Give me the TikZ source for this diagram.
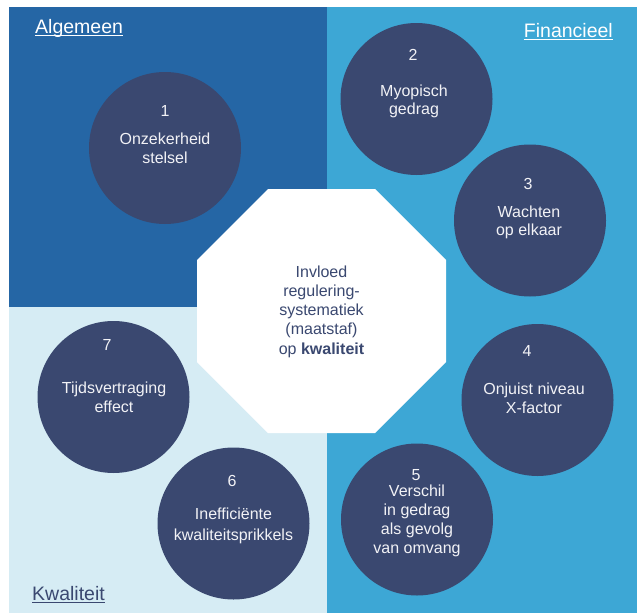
\documentclass[tikz,border=0pt]{standalone}
\usepackage{fontspec}
\setmainfont{Liberation Sans}
\definecolor{qdark}{RGB}{37,102,165}
\definecolor{qmid}{RGB}{61,167,213}
\definecolor{qlight}{RGB}{214,236,244}
\definecolor{navy}{RGB}{58,72,112}
\definecolor{softwhite}{RGB}{242,242,246}
\begin{document}
\begin{tikzpicture}[x=1pt,y=-1pt,
  bubble/.style={circle,fill=navy,draw=none,minimum size=152pt,inner sep=0pt},
  ctext/.style={anchor=base,inner sep=0pt,text=softwhite,font=\fontsize{16}{19}\selectfont},
  mtext/.style={anchor=base,inner sep=0pt,text=navy,font=\fontsize{16}{19}\selectfont},
  qlabel/.style={anchor=base west,inner sep=0pt,font=\fontsize{19.5}{23}\selectfont},
  uline/.style={line width=1.1pt}]
\useasboundingbox (0,0) rectangle (637,613);
% quadrants
\fill[qdark] (9,7) rectangle (327,307);
\fill[qmid] (327,7) rectangle (637,613);
\fill[qlight] (9,307) rectangle (327,613);
% centre octagon
\fill[white] (268,189) -- (375,189) -- (446,260) -- (446,362) -- (375,433)
  -- (268,433) -- (197,362) -- (197,260) -- cycle;
\node[mtext] (m1) at (321.5,277) {Invloed};
\node[mtext] (m2) at (321.5,296.3) {regulering-};
\node[mtext] (m3) at (321.5,315.5) {systematiek};
\node[mtext] (m4) at (321.5,334.8) {(maatstaf)};
\node[mtext] (m5) at (321.5,354) {op \textbf{kwaliteit}};
% quadrant labels
\node[qlabel,text=white] (lA) at (35,33) {Algemeen};
\draw[uline,white] ([yshift=-2.2pt]lA.base west) -- ([yshift=-2.2pt]lA.base east);
\node[qlabel,anchor=base east,text=white] (lF) at (613,37) {Financieel};
\draw[uline,white] ([yshift=-2.2pt]lF.base west) -- ([yshift=-2.2pt]lF.base east);
\node[qlabel,text=navy] (lK) at (32,600) {Kwaliteit};
\draw[uline,navy] ([yshift=-2.2pt]lK.base west) -- ([yshift=-2.2pt]lK.base east);
% circle 1
\node[bubble] (c1) at (165,148) {};
\node[ctext] (n1) at (165,116) {1};
\node[ctext] (a1) at (165,144) {Onzekerheid};
\node[ctext] (b1) at (165,163) {stelsel};
% circle 2
\node[bubble] (c2) at (416.5,99) {};
\node[ctext] (n2) at (413,60) {2};
\node[ctext] (a2) at (414,96) {Myopisch};
\node[ctext] (b2) at (414,114) {gedrag};
% circle 3
\node[bubble] (c3) at (530,220.5) {};
\node[ctext] (n3) at (528,189) {3};
\node[ctext] (a3) at (529,217) {Wachten};
\node[ctext] (b3) at (529,235) {op elkaar};
% circle 4
\node[bubble] (c4) at (537.5,400) {};
\node[ctext] (n4) at (527,356) {4};
\node[ctext] (a4) at (534,394) {Onjuist niveau};
\node[ctext] (b4) at (534,413) {X-factor};
% circle 5
\node[bubble] (c5) at (417,519.5) {};
\node[ctext] (n5) at (416,480) {5};
\node[ctext] (a5) at (417,496.5) {Verschil};
\node[ctext] (b5) at (417,515.5) {in gedrag};
\node[ctext] (d5) at (417,534.5) {als gevolg};
\node[ctext] (e5) at (417,553.5) {van omvang};
% circle 6
\node[bubble] (c6) at (233.5,523.5) {};
\node[ctext] (n6) at (232,486) {6};
\node[ctext] (a6) at (233.5,519) {Inefficiënte};
\node[ctext] (b6) at (233.5,540) {kwaliteitsprikkels};
% circle 7
\node[bubble] (c7) at (113.5,397) {};
\node[ctext] (n7) at (107,350) {7};
\node[ctext] (a7) at (114,393) {Tijdsvertraging};
\node[ctext] (b7) at (114,412) {effect};
\end{tikzpicture}
\end{document}
